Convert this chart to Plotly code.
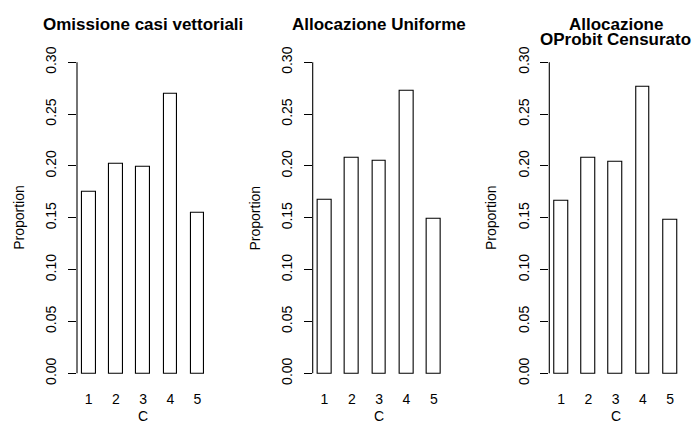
import plotly.graph_objects as go

# ---- data ----
CATEGORIES = ["1", "2", "3", "4", "5"]
OMISSIONE = [0.175, 0.202, 0.199, 0.270, 0.155]
UNIFORME = [0.167, 0.208, 0.205, 0.272, 0.149]
OPROBIT = [0.166, 0.208, 0.204, 0.276, 0.148]
TITLES = [["Omissione casi vettoriali"], ["Allocazione Uniforme"], ["Allocazione", "OProbit Censurato"]]
Y_TICKS = [0.00, 0.05, 0.10, 0.15, 0.20, 0.25, 0.30]
Y_TICK_TEXT = ["0.00", "0.05", "0.10", "0.15", "0.20", "0.25", "0.30"]
Y_LABEL = "Proportion"
X_LABEL = "C"
SERIES = [OMISSIONE, UNIFORME, OPROBIT]

# ---- layout geometry (pixels) ----
W, H = 697, 425
FONT = "Liberation Sans, Arial, Helvetica, sans-serif"
panel_px = [(77.0, 209.2), (312.7, 445.6), (549.3, 681.9)]
y0_px, y30_px = 373.0, 59.7
ext = 0.04 * (Y_TICKS[-1] - Y_TICKS[0])
y_range = [Y_TICKS[0] - ext, Y_TICKS[-1] + ext]
ppu = (y0_px - y30_px) / (Y_TICKS[-1] - Y_TICKS[0])
bot_px = y0_px + ext * ppu
top_px = y30_px - ext * ppu
y_dom = [(H - bot_px) / H, (H - top_px) / H]

# R barplot with space=1: bar i spans [2i+1, 2i+2]
centers = [2 * i + 1.5 for i in range(len(CATEGORIES))]
x_range = [1 - 0.04 * 9, 10 + 0.04 * 9]

fig = go.Figure()
ann = []
shapes = []
for k, vals in enumerate(SERIES):
    xa = "x" if k == 0 else f"x{k+1}"
    ya = "y" if k == 0 else f"y{k+1}"
    fig.add_trace(go.Bar(
        x=centers, y=vals, width=1.0, xaxis=xa, yaxis=ya,
        marker=dict(color="white", line=dict(color="black", width=1.1)),
        showlegend=False, hoverinfo="skip"))
    l, r = panel_px[k]
    xd = [l / W, r / W]
    suffix = "" if k == 0 else str(k + 1)
    fig.layout["xaxis" + suffix] = dict(
        domain=xd, range=x_range, anchor=ya, showline=False, showgrid=False,
        zeroline=False, ticks="", tickvals=centers, ticktext=CATEGORIES,
        tickfont=dict(family=FONT, size=14, color="black"), ticklabelstandoff=3)
    fig.layout["yaxis" + suffix] = dict(
        domain=y_dom, range=y_range, anchor=xa, showline=False, showgrid=False,
        zeroline=False, ticks="outside", ticklen=8, tickwidth=1, tickcolor="black",
        tickvals=Y_TICKS, ticktext=Y_TICK_TEXT, tickangle=-90,
        tickfont=dict(family=FONT, size=14, color="black"), ticklabelstandoff=6)
    shapes.append(dict(type="line", xref=xa + " domain", yref=ya, x0=0, x1=0,
                       y0=Y_TICKS[0], y1=Y_TICKS[-1], line=dict(color="black", width=1.1)))
    cx = (l + r) / 2 / W
    # titles
    lines = TITLES[k]
    ys = [22.0] if len(lines) == 1 else [21.5, 37.0]
    for t, yc in zip(lines, ys):
        ann.append(dict(text=f"<b>{t}</b>", x=cx, y=(H - yc) / H, xref="paper", yref="paper",
                        xanchor="center", yanchor="middle", showarrow=False,
                        font=dict(family=FONT, size=17, color="black")))
    # y label
    ann.append(dict(text=Y_LABEL, x=(l - 58) / W, y=(H - (y0_px + y30_px) / 2) / H,
                    xref="paper", yref="paper", xanchor="center", yanchor="middle",
                    textangle=-90, showarrow=False, font=dict(family=FONT, size=14, color="black")))
    # x label
    ann.append(dict(text=X_LABEL, x=cx, y=(H - 416.0) / H, xref="paper", yref="paper",
                    xanchor="center", yanchor="middle", showarrow=False,
                    font=dict(family=FONT, size=14, color="black")))

fig.update_layout(width=W, height=H, autosize=False,
                  margin=dict(l=0, r=0, t=0, b=0, pad=0),
                  paper_bgcolor="white", plot_bgcolor="white",
                  annotations=ann, shapes=shapes, bargap=0)
fig.write_html("out.html")
